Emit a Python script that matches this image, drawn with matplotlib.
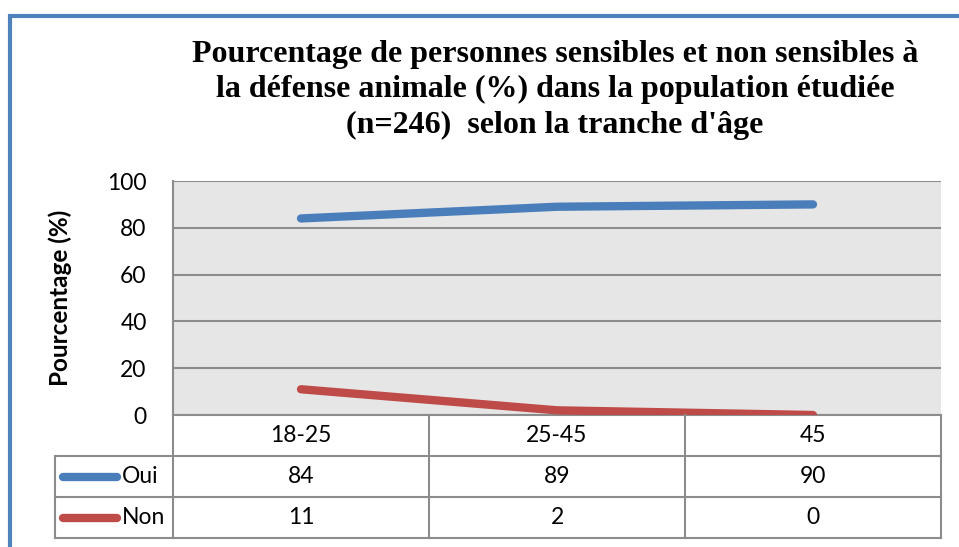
import matplotlib.pyplot as plt
from matplotlib.patches import Rectangle

categories = ["18-25", "25-45", "45"]
oui = [84, 89, 90]
non = [11, 2, 0]
series = [("Oui", oui, "#4a7ebb"), ("Non", non, "#be4b48")]

W, H = 959, 547
fig = plt.figure(figsize=(W / 100, H / 100), dpi=100)
body = ["Lato", "DejaVu Sans"]
fs = 16.5
grid_c = "#8c8c8c"

def box(x0, y0, x1, y1):
    # pixel box (top-left origin) -> figure fraction
    return [x0 / W, 1 - y1 / H, (x1 - x0) / W, (y1 - y0) / H]

# blue outer frame, partly cropped
fig.patches.append(Rectangle((10 / W, -0.1), 1.2, (H - 16) / H + 0.1,
                             transform=fig.transFigure, fill=False,
                             edgecolor="#4f81bd", linewidth=3, zorder=0))

fig.text(555 / W, 1 - 90 / H,
         "Pourcentage de personnes sensibles et non sensibles à\n"
         "la défense animale (%) dans la population étudiée\n"
         "(n=246)  selon la tranche d'âge",
         ha="center", va="center", fontsize=23, fontweight="bold",
         family="Liberation Serif", linespacing=1.28)

ax = fig.add_axes(box(173, 181, 941, 415))
ax.set_facecolor("#e6e6e6")
x = range(len(categories))
for name, vals, col in series:
    ax.plot(x, vals, color=col, linewidth=6, solid_capstyle="round", zorder=3)
ax.set_xlim(-0.5, len(categories) - 0.5)
ax.set_ylim(0, 100)
ax.set_yticks(range(0, 101, 20))
ax.set_xticks([])
ax.tick_params(axis="y", length=0, pad=19, labelsize=fs)
for lab in ax.get_yticklabels():
    lab.set_family(body)
ax.grid(axis="y", color=grid_c, linewidth=1.5)
ax.set_axisbelow(True)
for s in ["top", "right"]:
    ax.spines[s].set_visible(False)
for s in ["left", "bottom"]:
    ax.spines[s].set_color(grid_c)
    ax.spines[s].set_linewidth(1.5)
ax.set_ylabel("Pourcentage (%)", fontsize=17.5, fontweight="bold", family=body)
ax.yaxis.set_label_coords(-101 / 768, 0.5)

# data table below the plot
lab_w = (173 - 55) / 256
tab = fig.add_axes(box(55, 415, 941, 538))
tab.set_xlim(-0.5 - lab_w, len(categories) - 0.5)
tab.set_ylim(3, 0)
tab.axis("off")
lk = dict(color=grid_c, linewidth=1.5, clip_on=False)
for i in range(len(categories) + 1):
    tab.plot([i - 0.5, i - 0.5], [0, 3], **lk)
tab.plot([-0.5 - lab_w] * 2, [1, 3], **lk)
for r in (1, 2, 3):
    tab.plot([-0.5 - lab_w, len(categories) - 0.5], [r, r], **lk)
for i, c in enumerate(categories):
    tab.text(i, 0.5, c, ha="center", va="center", fontsize=fs, family=body)
for r, (name, vals, col) in enumerate(series, start=1):
    x0 = -0.5 - lab_w + 8 / 256
    tab.plot([x0, x0 + 54 / 256], [r + 0.5, r + 0.5], color=col, linewidth=6,
             solid_capstyle="round", clip_on=False)
    tab.text(x0 + 59 / 256, r + 0.5, name, ha="left", va="center",
             fontsize=fs, family=body)
    for i, v in enumerate(vals):
        tab.text(i, r + 0.5, str(v), ha="center", va="center", fontsize=fs,
                 family=body)

fig.savefig("out.png", dpi=100, facecolor="white")
